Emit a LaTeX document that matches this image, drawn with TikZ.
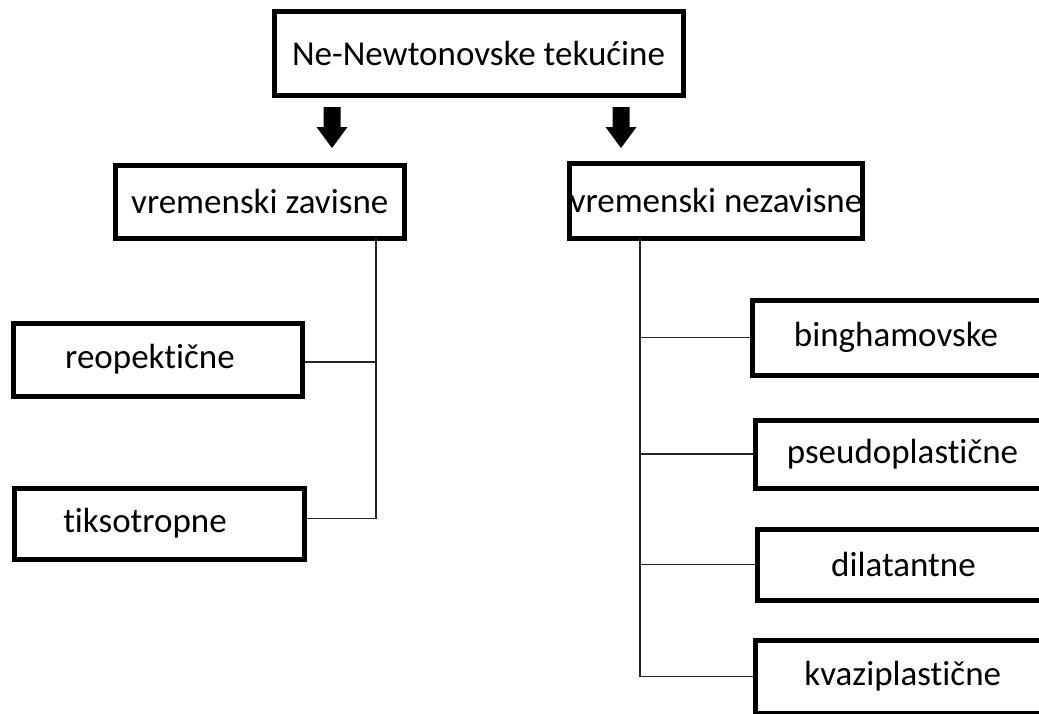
\documentclass[tikz,border=0pt]{standalone}
\usepackage{fontspec}
\setmainfont[Ligatures=NoCommon]{Carlito}

\begin{document}
\begin{tikzpicture}[x=1pt,y=-1pt,
    box/.style={draw, line width=5pt, inner sep=0pt, font=\fontsize{35}{42}\selectfont},
    link/.style={line width=1.4pt, draw=black!85}]
  \useasboundingbox (0,0) rectangle (1039,713);
  \clip (0,0) rectangle (1039,713);

  % top and the two groups
  \node[box, minimum width=409pt, minimum height=84pt] (top) at (478.5,53) {Ne-Newtonovske tekućine};
  \node[box, minimum width=288.5pt, minimum height=73pt] (zav) at (259.75,201.5) {vremenski zavisne};
  \node[box, minimum width=288pt, minimum height=75pt] (nezav) at (716,200.5) {vremenski nezavisne};

  % block arrows
  \coordinate (arrL) at (332,107);
  \coordinate (arrR) at (621,107);
  \foreach \a in {arrL,arrR}
    \fill (\a) -- ++(8.5,0) -- ++(0,20) -- ++(7,0) -- ++(-15.5,21) -- ++(-15.5,-21) -- ++(7,0) -- ++(0,-20) -- cycle;

  % time dependent
  \node[box, minimum width=289pt, minimum height=73pt] (reo) at (157.5,359.5) {reopektične\hspace*{15pt}};
  \node[box, minimum width=290pt, minimum height=71pt] (tik) at (159,523.5) {tiksotropne\hspace*{28pt}};

  % time independent
  \node[box, minimum width=298pt, minimum height=75pt] (bing) at (901,337.5) {binghamovske\hspace*{10pt}};
  \node[box, minimum width=295pt, minimum height=68pt] (pseudo) at (902.5,454) {pseudoplastične};
  \node[box, minimum width=293pt, minimum height=71pt] (dil) at (903.5,564.5) {dilatantne};
  \node[box, minimum width=294.5pt, minimum height=73pt] (kvazi) at (902.75,676.5) {kvaziplastične};

  % connectors
  \coordinate (lbus) at (376,238);
  \coordinate (rbus) at (640,238);
  \coordinate (tikj) at ([yshift=5pt]tik.east);
  \coordinate (reoj) at ([yshift=-2.5pt]reo.east);
  \draw[link] (lbus) -- (lbus |- tikj) -- (tikj);
  \draw[link] (reoj) -- (reoj -| lbus);
  \draw[link] (rbus) -- (rbus |- kvazi.west) -- (kvazi.west);
  \foreach \n in {bing,pseudo,dil}
    \draw[link] (\n.west) -- (\n.west -| rbus);
\end{tikzpicture}
\end{document}
